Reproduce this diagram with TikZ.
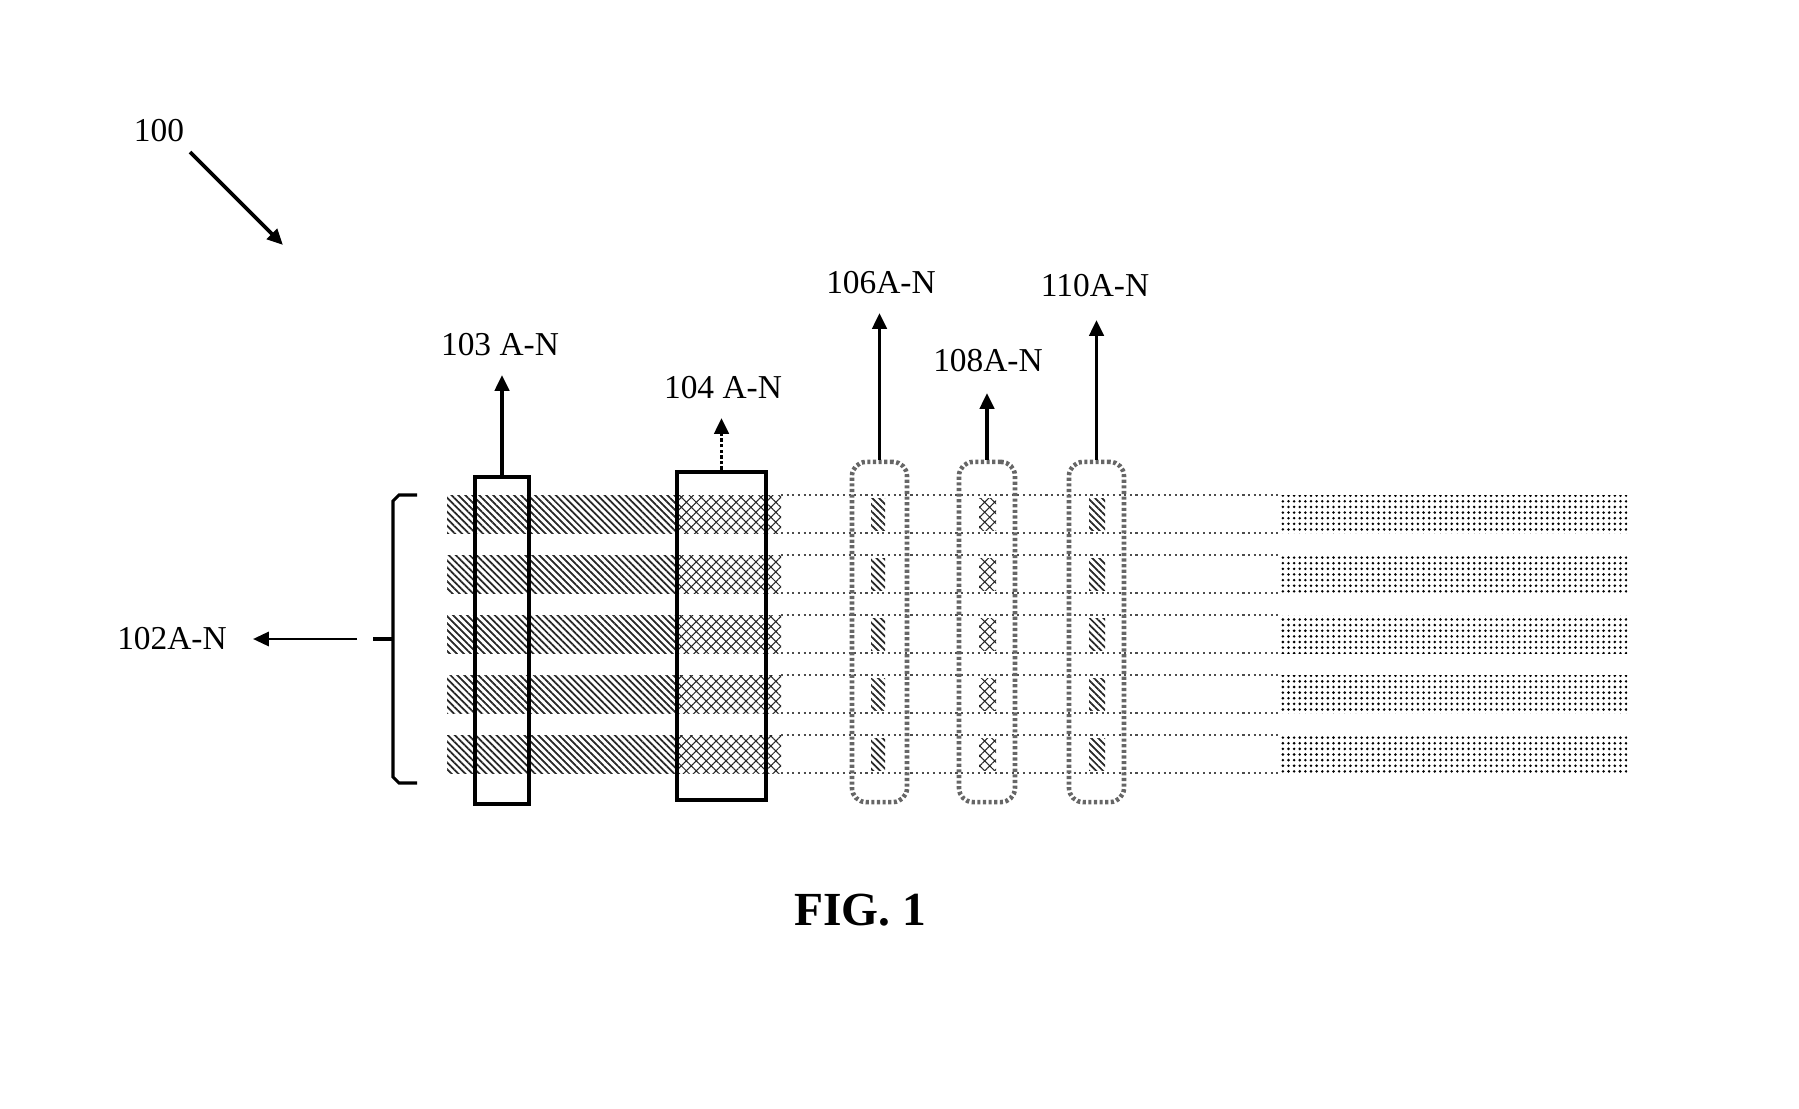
\documentclass[tikz,border=0pt]{standalone}
\usepackage{fontspec}
\setmainfont{Liberation Serif}
\usetikzlibrary{arrows.meta,patterns.meta}
\begin{document}
\begin{tikzpicture}[x=0.01cm,y=-0.01cm,
  lbl/.style={font=\fontsize{9.5}{11}\selectfont, inner sep=0pt},
  arr/.style={line width=1.1pt,-{Triangle[width=4pt,length=4.5pt]}},
  thinarr/.style={line width=0.8pt,-{Triangle[width=4pt,length=4.5pt]}},
  dotarr/.style={line width=1.1pt,dash pattern=on 1pt off 0.6pt,-{Triangle[width=4pt,length=4.5pt]}},
  solidbox/.style={draw,line width=1.1pt,inner sep=0pt},
  dotbox/.style={draw=black!60,line width=1.3pt,dash pattern=on 0.9pt off 0.7pt,rounded corners=4pt,inner sep=0pt},
  darkfill/.style={pattern={Lines[angle=-45,distance=1.4pt,line width=0.5pt]},pattern color=black!85},
  medfill/.style={pattern={Hatch[angle=45,distance=2pt,line width=0.3pt]},pattern color=black!85},
  dotfill/.style={pattern={Dots[distance=1.6pt,radius=0.4pt]},pattern color=black},
  bedge/.style={black!70,line width=0.6pt,dash pattern=on 0.6pt off 1pt}
]
\useasboundingbox (0,0) rectangle (1799,1109);
% bars
\foreach \t in {495,555,615,675,735}{
  \fill[darkfill] (447,\t) rectangle (677,\t+38);
  \fill[medfill] (677,\t) rectangle (781,\t+38);
  \draw[bedge] (781,\t) -- (1280,\t) (781,\t+38) -- (1280,\t+38);
  \fill[dotfill] (1280,\t) rectangle (1627,\t+38);
  \fill[darkfill] (871,\t+3) rectangle (885,\t+35);
  \fill[medfill] (979,\t+3) rectangle (996,\t+35);
  \fill[darkfill] (1089,\t+3) rectangle (1105,\t+35);
}
% boxes
\node[solidbox, minimum width=0.54cm, minimum height=3.27cm] (b103) at (502,640.5) {};
\node[solidbox, minimum width=0.89cm, minimum height=3.28cm] (b104) at (721.5,636) {};
\node[dotbox, minimum width=0.55cm, minimum height=3.40cm] (b106) at (879.5,632) {};
\node[dotbox, minimum width=0.56cm, minimum height=3.40cm] (b108) at (987,632) {};
\node[dotbox, minimum width=0.55cm, minimum height=3.40cm] (b110) at (1096.5,632) {};
% labels
\node[lbl] (l100) at (159,131) {100};
\node[lbl] (l103) at (500,345) {103 A-N};
\node[lbl] (l104) at (723,388) {104 A-N};
\node[lbl] (l106) at (881,283) {106A-N};
\node[lbl] (l108) at (988,361) {108A-N};
\node[lbl] (l110) at (1095,286) {110A-N};
\node[lbl] (l102) at (172,639) {102A-N};
\node[font=\bfseries\fontsize{13.5}{16}\selectfont, inner sep=0pt] (fig) at (860,910) {FIG. 1};
% arrow tips
\coordinate (t103) at (502,375);
\coordinate (t104) at (721.5,418);
\coordinate (t106) at (879.5,313);
\coordinate (t108) at (987,393);
\coordinate (t110) at (1096.5,320);
\draw[arr] (b103.north) -- (t103);
\draw[dotarr] (b104.north) -- (t104);
\draw[arr] (b106.north) -- (t106);
\draw[arr] (b108.north) -- (t108);
\draw[arr] (b110.north) -- (t110);
% 100 arrow
\coordinate (s100) at (190,152);
\coordinate (e100) at (283,245);
\draw[arr] (s100) -- (e100);
% brace
\coordinate (brtick) at (373,639);
\draw[line width=0.9pt] (417,495) -- (399,495) -- (393,501) -- (393,777) -- (399,783) -- (417,783);
\draw[line width=1.1pt] (brtick) -- (393,639);
\coordinate (s102) at (357,639);
\coordinate (e102) at (253,639);
\draw[thinarr] (s102) -- (e102);
\end{tikzpicture}
\end{document}
